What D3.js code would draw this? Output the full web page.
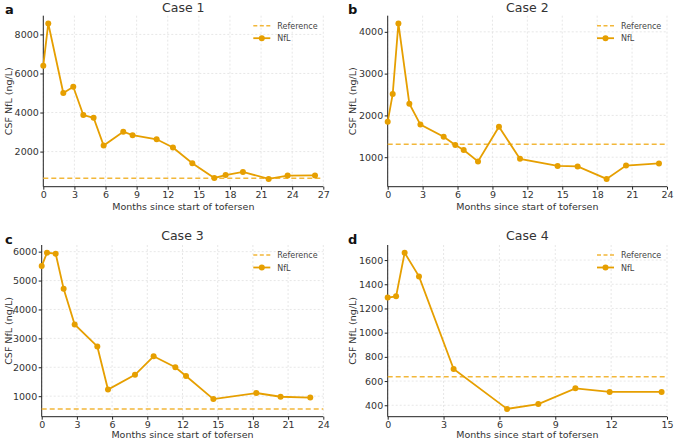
<!DOCTYPE html>
<html>
<head>
<meta charset="utf-8">
<script src="https://cdn.jsdelivr.net/npm/d3@7"></script>
<style>
  body { margin: 0; background: #fff; }
  text { font-family: "DejaVu Sans", sans-serif; }
</style>
</head>
<body>
<script>
const WIDTH = 674;
const HEIGHT = 443;

// Datos
const case1Months = [0, 0.48, 1.93, 2.89, 3.86, 4.85, 5.82, 7.71, 8.61, 10.93, 12.5, 14.37, 16.49, 17.58, 19.25, 21.73, 23.56, 26.2];
const case1NfL = [6400, 8560, 5000, 5320, 3870, 3730, 2310, 3020, 2840, 2630, 2210, 1400, 650, 800, 960, 600, 770, 780];
const case2Months = [0, 0.43, 0.92, 1.86, 2.81, 4.81, 5.81, 6.53, 7.76, 9.56, 11.37, 14.6, 16.32, 18.81, 20.48, 23.31];
const case2NfL = [1850, 2510, 4200, 2280, 1780, 1490, 1290, 1170, 900, 1730, 960, 790, 780, 480, 800, 850];
const case3Months = [0, 0.45, 1.19, 1.87, 2.81, 4.74, 5.65, 7.95, 9.54, 11.39, 12.3, 14.63, 18.29, 20.36, 22.89];
const case3NfL = [5500, 5960, 5930, 4720, 3480, 2720, 1230, 1740, 2380, 2000, 1700, 900, 1110, 980, 950];
const case4Months = [0, 0.45, 0.91, 1.68, 3.54, 6.41, 8.09, 10.08, 11.92, 14.71];
const case4NfL = [1290, 1300, 1660, 1465, 700, 370, 410, 540, 510, 510];
const referencias = [630, 1310, 560, 635];
const xMax = [27, 24, 24, 15];
const yTicks = [
  [2000, 4000, 6000, 8000],
  [1000, 2000, 3000, 4000],
  [1000, 2000, 3000, 4000, 5000, 6000],
  [400, 600, 800, 1000, 1200, 1400, 1600]
];
const titulos = ["Case 1", "Case 2", "Case 3", "Case 4"];
const letras = ["a", "b", "c", "d"];

const COLOR = "#E69F00";
const COLOR_REF = "#F2B73A";

const casos = [
  { meses: case1Months, nfl: case1NfL },
  { meses: case2Months, nfl: case2NfL },
  { meses: case3Months, nfl: case3NfL },
  { meses: case4Months, nfl: case4NfL }
];

// Posiciones de cada panel (left, top, right, bottom)
const cajas = [
  [43.3, 15.7, 323.3, 186.7],
  [387.7, 15.7, 667, 186.7],
  [41.7, 245, 323.3, 416.7],
  [387.7, 245, 667, 416.7]
];

const svg = d3.select("body").append("svg")
  .attr("width", WIDTH)
  .attr("height", HEIGHT);

casos.forEach((caso, i) => {
  const [x0, y0, x1, y1] = cajas[i];
  const ref = referencias[i];
  const arriba = i < 2;

  // Dominio Y con 5% de margen, incluyendo la línea de referencia
  const lo = Math.min(d3.min(caso.nfl), ref);
  const hi = Math.max(d3.max(caso.nfl), ref);
  const pad = (hi - lo) * 0.05;

  const x = d3.scaleLinear().domain([0, xMax[i]]).range([x0, x1]);
  const y = d3.scaleLinear().domain([lo - pad, hi + pad]).range([y1, y0]);
  const xTicks = d3.range(0, xMax[i] + 0.1, 3);

  const g = svg.append("g");

  // Grilla
  g.selectAll(".gx").data(xTicks).join("line")
    .attr("x1", d => x(d)).attr("x2", d => x(d))
    .attr("y1", y0).attr("y2", y1)
    .attr("stroke", "#dcdcdc").attr("stroke-width", 0.7)
    .attr("stroke-dasharray", "2,2");
  g.selectAll(".gy").data(yTicks[i]).join("line")
    .attr("x1", x0).attr("x2", x1)
    .attr("y1", d => y(d)).attr("y2", d => y(d))
    .attr("stroke", "#dcdcdc").attr("stroke-width", 0.7)
    .attr("stroke-dasharray", "2,2");

  // Ejes
  const ejeX = g.append("g")
    .attr("transform", `translate(0,${y1})`)
    .call(d3.axisBottom(x).tickValues(xTicks).tickFormat(d3.format("d")).tickSize(3).tickPadding(1.5));
  const ejeY = g.append("g")
    .attr("transform", `translate(${x0},0)`)
    .call(d3.axisLeft(y).tickValues(yTicks[i]).tickFormat(d3.format("d")).tickSize(3).tickPadding(1.5));
  [ejeX, ejeY].forEach(e => {
    e.select(".domain").attr("stroke", "#222").attr("stroke-width", 1);
    e.selectAll(".tick line").attr("stroke", "#222");
    e.selectAll(".tick text").attr("fill", "#333").style("font-size", "9.5px")
      .style("font-family", "DejaVu Sans, sans-serif");
  });
  ejeX.select(".domain").attr("d", `M${x0},0H${x1}`);
  ejeY.select(".domain").attr("d", `M0,${y0}V${y1}`);

  // Línea de referencia
  g.append("line")
    .attr("x1", x0).attr("x2", x1)
    .attr("y1", y(ref)).attr("y2", y(ref))
    .attr("stroke", COLOR_REF).attr("stroke-width", 1.5)
    .attr("stroke-dasharray", "5,3");

  // Serie NfL
  const puntos = caso.meses.map((m, k) => [m, caso.nfl[k]]);
  g.append("path")
    .datum(puntos)
    .attr("fill", "none")
    .attr("stroke", COLOR)
    .attr("stroke-width", 1.8)
    .attr("d", d3.line().x(d => x(d[0])).y(d => y(d[1])));
  g.selectAll("circle").data(puntos).join("circle")
    .attr("cx", d => x(d[0])).attr("cy", d => y(d[1]))
    .attr("r", 3).attr("fill", COLOR);

  // Leyenda
  const lx = x1 - 70, ly = y0 + 10;
  g.append("line")
    .attr("x1", lx).attr("x2", lx + 17).attr("y1", ly).attr("y2", ly)
    .attr("stroke", COLOR_REF).attr("stroke-width", 1.5).attr("stroke-dasharray", "4,2.5");
  g.append("text").attr("x", lx + 24).attr("y", ly + 3)
    .attr("fill", "#444").style("font-size", "8px").text("Reference");
  g.append("line")
    .attr("x1", lx).attr("x2", lx + 17).attr("y1", ly + 12.5).attr("y2", ly + 12.5)
    .attr("stroke", COLOR).attr("stroke-width", 1.8);
  g.append("circle").attr("cx", lx + 8.5).attr("cy", ly + 12.5).attr("r", 3).attr("fill", COLOR);
  g.append("text").attr("x", lx + 24).attr("y", ly + 15.5)
    .attr("fill", "#444").style("font-size", "8px").text("NfL");

  // Títulos y etiquetas
  g.append("text")
    .attr("x", (x0 + x1) / 2).attr("y", arriba ? y0 - 4 : y0 - 5)
    .attr("text-anchor", "middle").attr("fill", "#333")
    .style("font-size", "12.5px").text(titulos[i]);
  g.append("text")
    .attr("x", (x0 + x1) / 2).attr("y", arriba ? y1 + 23.5 : y1 + 21.5)
    .attr("text-anchor", "middle").attr("fill", "#333")
    .style("font-size", "9.5px").text("Months since start of tofersen");
  g.append("text")
    .attr("transform", `translate(${(i % 2 === 0 ? 8.5 : 352) + 3.5},${(y0 + y1) / 2}) rotate(-90)`)
    .attr("text-anchor", "middle").attr("fill", "#333")
    .style("font-size", "9.5px").text("CSF NfL (ng/L)");
  g.append("text")
    .attr("x", i % 2 === 0 ? 5 : 348).attr("y", arriba ? 14 : 244)
    .attr("fill", "#111").style("font-weight", "bold")
    .style("font-size", "13px").text(letras[i]);
});
</script>
</body>
</html>
